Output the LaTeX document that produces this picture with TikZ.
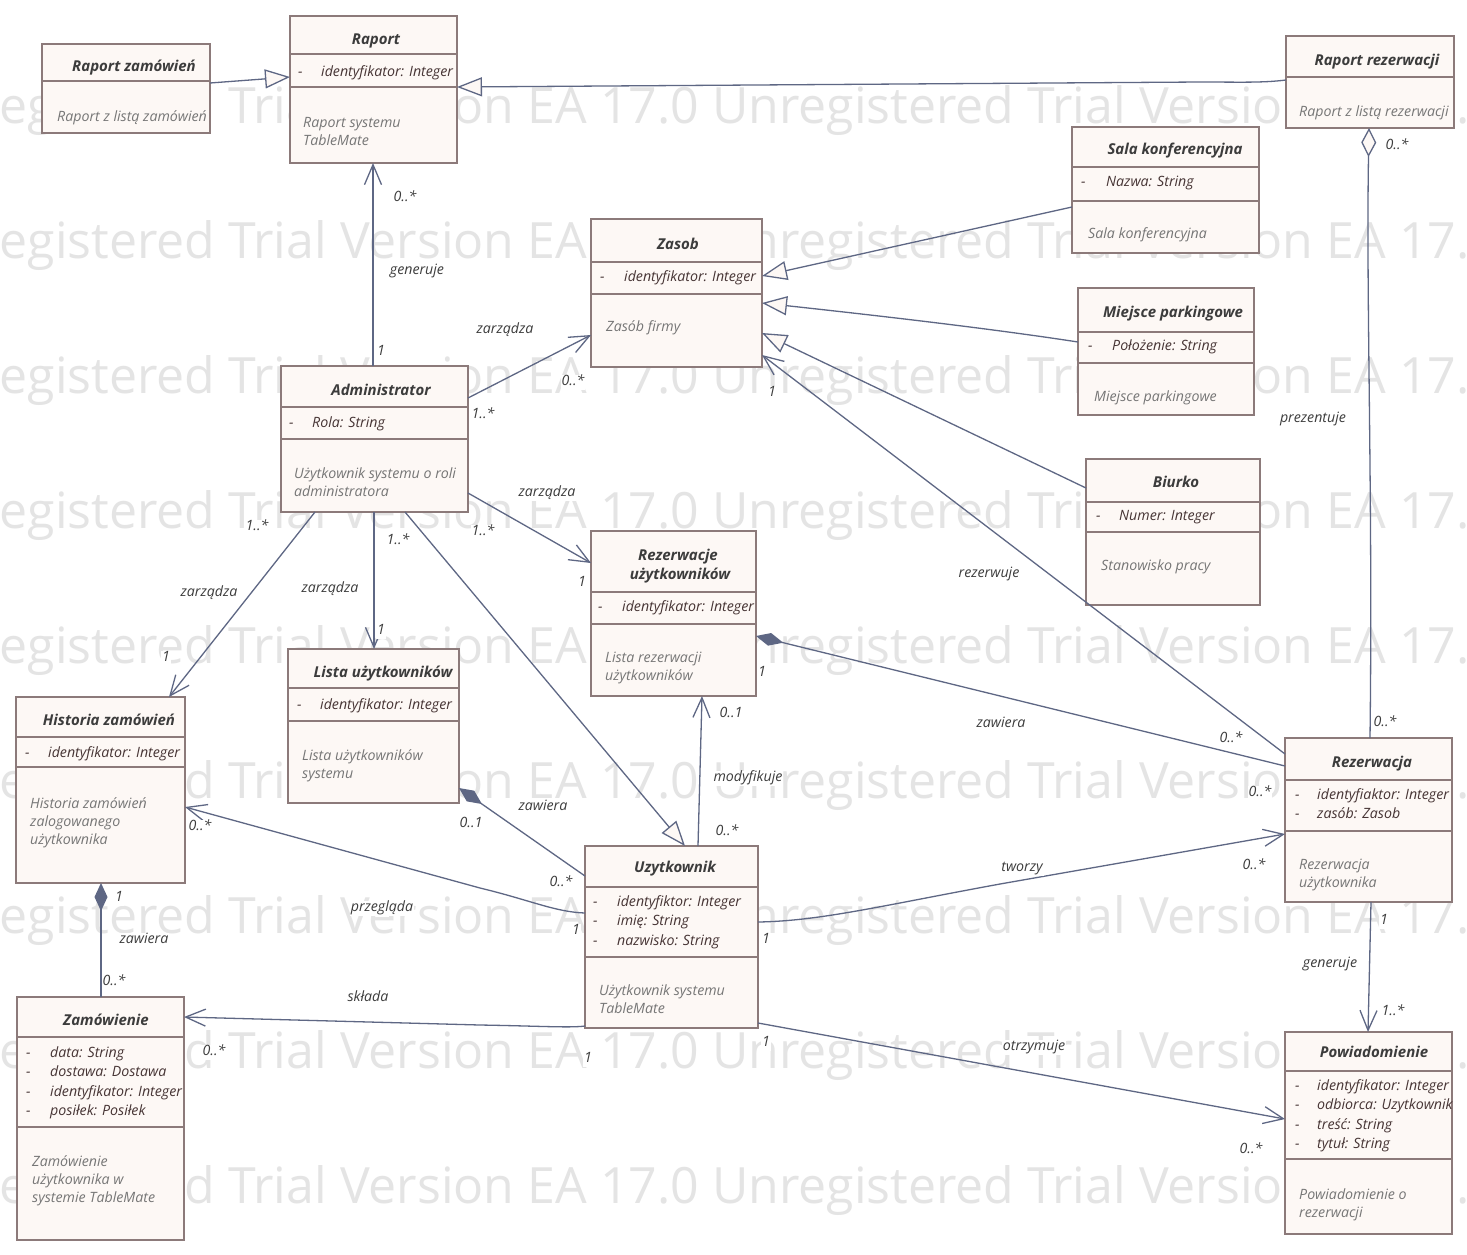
\documentclass[tikz,border=0pt]{standalone}
\usepackage{fontspec}
\setmainfont{Open Sans}
\usetikzlibrary{arrows.meta}
\definecolor{boxfill}{RGB}{253,248,245}
\definecolor{boxline}{RGB}{140,122,122}
\definecolor{linec}{RGB}{94,103,132}
\definecolor{titlec}{RGB}{60,60,60}
\definecolor{attrc}{RGB}{70,52,52}
\definecolor{notec}{RGB}{118,118,118}
\definecolor{lblc}{RGB}{60,60,60}
\definecolor{wmc}{RGB}{228,228,228}
\newcommand\bodyfont{\fontsize{14.2}{18}\selectfont\itshape}
\newcommand\titlefont{\fontsize{15}{18}\selectfont\bfseries\itshape}
\newcommand\wmfont{\fontsize{50}{50}\selectfont}
\newcommand\umlclass[5]{\node[clsbox, minimum width={(#4)-(#2)}, minimum height={(#5)-(#3)}, anchor=north west] (#1) at (#2,#3) {};}
\newcommand\umlsep[2]{\draw[sepline] (#1.west |- 0,#2) -- (#1.east |- 0,#2);}
\tikzset{
 clsbox/.style={draw=boxline, fill=boxfill, line width=1.2pt, inner sep=0, outer sep=0, rectangle},
 sepline/.style={draw=boxline, line width=1.1pt},
 ttl/.style={font=\titlefont, text=titlec, inner sep=0, text height=11pt, text depth=3pt},
 attr/.style={font=\bodyfont, text=attrc, anchor=west, inner sep=0, text height=10pt, text depth=3pt},
 note/.style={font=\bodyfont, text=notec, anchor=west, inner sep=0, text height=10pt, text depth=3pt},
 lbl/.style={font=\bodyfont, text=lblc, fill=white, inner sep=1pt, text height=10pt, text depth=3pt},
 conn/.style={draw=linec, line width=1.3pt},
 assoc/.style={conn, -{Straight Barb[length=20pt,width=17pt]}},
 gen/.style={conn, -{Triangle[length=25pt,width=19pt,fill=boxfill]}},
 comp/.style={conn, {Diamond[length=28pt,width=13pt,fill=linec]}-},
 aggr/.style={conn, {Diamond[length=29pt,width=15pt,fill=boxfill]}-},
 wm/.style={font=\wmfont, text=wmc, anchor=base west, inner sep=0},
}
\begin{document}
\begin{tikzpicture}[x=1pt,y=-1pt]
\useasboundingbox (0,0) rectangle (1467,1254);
\fill[white] (0,0) rectangle (1467,1254);
% watermark
\begin{scope}
\clip (0,0) rectangle (1467,1254);
\foreach \k in {0,...,8}{
  \node[wm] (wm\k) at (-87,{123+135*\k}) {Unregistered Trial Version EA 17.0 Unregistered Trial Version EA 17.0};
}
\end{scope}

% ---------- classes ----------
\umlclass{rzam}{42}{44}{210}{133}
\umlsep{rzam}{81}
\node[ttl] (rzam-t) at (134,67) {Raport zamówień};
\node[note] (rzam-n1) at (57,118) {Raport z listą zamówień};

\umlclass{rap}{290}{16}{457}{163}
\umlsep{rap}{54}\umlsep{rap}{87}
\node[ttl] (rap-t) at (376,40) {Raport};
\node[attr] (rap-d1) at (298,73) {-};
\node[attr] (rap-a1) at (321,73) {identyfikator: Integer};
\node[note] (rap-n1) at (303,124) {Raport systemu};
\node[note] (rap-n2) at (303,142) {TableMate};

\umlclass{rrez}{1286}{36}{1454}{128}
\umlsep{rrez}{77}
\node[ttl] (rrez-t) at (1377,61) {Raport rezerwacji};
\node[note] (rrez-n1) at (1299,113) {Raport z listą rezerwacji};

\umlclass{sala}{1072}{127}{1259}{253}
\umlsep{sala}{167}\umlsep{sala}{201}
\node[ttl] (sala-t) at (1175,150) {Sala konferencyjna};
\node[attr] (sala-d1) at (1081,183) {-};
\node[attr] (sala-a1) at (1106,183) {Nazwa: String};
\node[note] (sala-n1) at (1088,235) {Sala konferencyjna};

\umlclass{zas}{591}{219}{762}{367}
\umlsep{zas}{262}\umlsep{zas}{294}
\node[ttl] (zas-t) at (678,245) {Zasob};
\node[attr] (zas-d1) at (600,278) {-};
\node[attr] (zas-a1) at (624,278) {identyfikator: Integer};
\node[note] (zas-n1) at (606,328) {Zasób firmy};

\umlclass{miej}{1078}{288}{1254}{415}
\umlsep{miej}{332}\umlsep{miej}{363}
\node[ttl] (miej-t) at (1173,313) {Miejsce parkingowe};
\node[attr] (miej-d1) at (1088,347) {-};
\node[attr] (miej-a1) at (1112,347) {Położenie: String};
\node[note] (miej-n1) at (1094,398) {Miejsce parkingowe};

\umlclass{adm}{281}{366}{468}{512}
\umlsep{adm}{407}\umlsep{adm}{439}
\node[ttl] (adm-t) at (381,391) {Administrator};
\node[attr] (adm-d1) at (289,424) {-};
\node[attr] (adm-a1) at (312,424) {Rola: String};
\node[note] (adm-n1) at (294,475) {Użytkownik systemu o roli};
\node[note] (adm-n2) at (294,493) {administratora};

\umlclass{biu}{1086}{459}{1260}{605}
\umlsep{biu}{502}\umlsep{biu}{532}
\node[ttl] (biu-t) at (1176,483) {Biurko};
\node[attr] (biu-d1) at (1096,517) {-};
\node[attr] (biu-a1) at (1119,517) {Numer: Integer};
\node[note] (biu-n1) at (1101,567) {Stanowisko pracy};

\umlclass{rezu}{591}{531}{756}{696}
\umlsep{rezu}{592}\umlsep{rezu}{624}
\node[ttl] (rezu-t1) at (678,556) {Rezerwacje};
\node[ttl] (rezu-t2) at (680,575) {użytkowników};
\node[attr] (rezu-d1) at (598,608) {-};
\node[attr] (rezu-a1) at (622,608) {identyfikator: Integer};
\node[note] (rezu-n1) at (605,659) {Lista rezerwacji};
\node[note] (rezu-n2) at (605,677) {użytkowników};

\umlclass{lista}{288}{649}{459}{803}
\umlsep{lista}{688}\umlsep{lista}{721}
\node[ttl] (lista-t) at (383,673) {Lista użytkowników};
\node[attr] (lista-d1) at (297,706) {-};
\node[attr] (lista-a1) at (320,706) {identyfikator: Integer};
\node[note] (lista-n1) at (302,757) {Lista użytkowników};
\node[note] (lista-n2) at (302,775) {systemu};

\umlclass{hist}{16}{697}{185}{883}
\umlsep{hist}{737}\umlsep{hist}{767}
\node[ttl] (hist-t) at (109,721) {Historia zamówień};
\node[attr] (hist-d1) at (25,754) {-};
\node[attr] (hist-a1) at (48,754) {identyfikator: Integer};
\node[note] (hist-n1) at (30,805) {Historia zamówień};
\node[note] (hist-n2) at (30,823) {zalogowanego};
\node[note] (hist-n3) at (30,841) {użytkownika};

\umlclass{uzy}{585}{846}{758}{1028}
\umlsep{uzy}{887}\umlsep{uzy}{957}
\node[ttl] (uzy-t) at (675,868) {Uzytkownik};
\node[attr] (uzy-d1) at (593,903) {-};
\node[attr] (uzy-a1) at (617,903) {identyfiktor: Integer};
\node[attr] (uzy-d2) at (593,922) {-};
\node[attr] (uzy-a2) at (617,922) {imię: String};
\node[attr] (uzy-d3) at (593,942) {-};
\node[attr] (uzy-a3) at (617,942) {nazwisko: String};
\node[note] (uzy-n1) at (599,992) {Użytkownik systemu};
\node[note] (uzy-n2) at (599,1010) {TableMate};

\umlclass{rez}{1285}{738}{1452}{902}
\umlsep{rez}{780}\umlsep{rez}{831}
\node[ttl] (rez-t) at (1372,763) {Rezerwacja};
\node[attr] (rez-d1) at (1295,796) {-};
\node[attr] (rez-a1) at (1317,796) {identyfiaktor: Integer};
\node[attr] (rez-d2) at (1295,815) {-};
\node[attr] (rez-a2) at (1317,815) {zasób: Zasob};
\node[note] (rez-n1) at (1299,866) {Rezerwacja};
\node[note] (rez-n2) at (1299,884) {użytkownika};

\umlclass{zam}{17}{997}{184}{1240}
\umlsep{zam}{1037}\umlsep{zam}{1127}
\node[ttl] (zam-t) at (106,1021) {Zamówienie};
\node[attr] (zam-d1) at (26,1054) {-};
\node[attr] (zam-a1) at (50,1054) {data: String};
\node[attr] (zam-d2) at (26,1073) {-};
\node[attr] (zam-a2) at (50,1073) {dostawa: Dostawa};
\node[attr] (zam-d3) at (26,1093) {-};
\node[attr] (zam-a3) at (50,1093) {identyfikator: Integer};
\node[attr] (zam-d4) at (26,1112) {-};
\node[attr] (zam-a4) at (50,1112) {posiłek: Posiłek};
\node[note] (zam-n1) at (32,1163) {Zamówienie};
\node[note] (zam-n2) at (32,1181) {użytkownika w};
\node[note] (zam-n3) at (32,1199) {systemie TableMate};

\umlclass{pow}{1285}{1032}{1452}{1234}
\umlsep{pow}{1071}\umlsep{pow}{1159}
\node[ttl] (pow-t) at (1374,1053) {Powiadomienie};
\node[attr] (pow-d1) at (1295,1087) {-};
\node[attr] (pow-a1) at (1317,1087) {identyfikator: Integer};
\node[attr] (pow-d2) at (1295,1106) {-};
\node[attr] (pow-a2) at (1317,1106) {odbiorca: Uzytkownik};
\node[attr] (pow-d3) at (1295,1126) {-};
\node[attr] (pow-a3) at (1317,1126) {treść: String};
\node[attr] (pow-d4) at (1295,1145) {-};
\node[attr] (pow-a4) at (1317,1145) {tytuł: String};
\node[note] (pow-n1) at (1299,1196) {Powiadomienie o};
\node[note] (pow-n2) at (1299,1214) {rezerwacji};

% ---------- connectors ----------
% generalizations
\draw[gen] (rzam.east |- 0,83) -- (rap.west |- 0,77);
\draw[gen] (rrez.west |- 0,80) .. controls (1262,83) and (1240,82) .. (1200,82) -- (rap.east |- 0,87);
\draw[gen] (sala.west |- 0,207) -- (zas.east |- 0,276);
\draw[gen] (miej.west |- 0,342) .. controls (1000,330) and (900,318) .. (zas.east |- 0,303);
\draw[gen] (biu.west |- 0,488) -- (zas.east |- 0,333);
\draw[gen] (405,0 |- adm.south) -- (685,0 |- uzy.north);
% associations
\draw[assoc] (373,0 |- adm.north) -- (373,0 |- rap.south);
\draw[assoc] (adm.east |- 0,398) -- (zas.west |- 0,335);
\draw[assoc] (adm.east |- 0,493) -- (rezu.west |- 0,563);
\draw[assoc] (315,0 |- adm.south) -- (169,0 |- hist.north);
\draw[assoc] (374,0 |- adm.south) -- (374,0 |- lista.north);
\draw[assoc] (rez.west |- 0,754) -- (zas.east |- 0,355);
\draw[assoc] (uzy.east |- 0,922) .. controls (820,921) and (880,906) .. (1000,884) -- (rez.west |- 0,834);
\draw[assoc] (1371,0 |- rez.south) -- (1368,0 |- pow.north);
\draw[assoc] (uzy.east |- 0,1023) -- (pow.west |- 0,1119);
\draw[assoc] (uzy.west |- 0,1026) .. controls (570,1028) and (540,1026) .. (480,1025) -- (zam.east |- 0,1017);
\draw[assoc] (uzy.west |- 0,913) .. controls (555,912) and (530,900) .. (480,888) -- (hist.east |- 0,807);
\draw[assoc] (698,0 |- uzy.north) -- (702,0 |- rezu.south);
% compositions / aggregation
\draw[comp] (rezu.east |- 0,636) -- (rez.west |- 0,766);
\draw[comp] (lista.east |- 0,788) -- (uzy.west |- 0,876);
\draw[comp] (101,0 |- hist.south) -- (101,0 |- zam.north);
\draw[aggr] (1369,0 |- rrez.south) .. controls (1366,300) and (1373,500) .. (1370,0 |- rez.north);

% ---------- labels ----------
\node[lbl] (L1) at (405,198) {0..*};
\node[lbl] (L2) at (417,271) {generuje};
\node[lbl] (L3) at (381,352) {1};
\node[lbl] (L4) at (505,330) {zarządza};
\node[lbl] (L5) at (573,382) {0..*};
\node[lbl] (L6) at (483,415) {1..*};
\node[lbl] (L7) at (547,493) {zarządza};
\node[lbl] (L8) at (483,532) {1..*};
\node[lbl] (L9) at (582,583) {1};
\node[lbl] (L10) at (257,527) {1..*};
\node[lbl] (L11) at (209,593) {zarządza};
\node[lbl] (L12) at (166,658) {1};
\node[lbl] (L13) at (398,541) {1..*};
\node[lbl] (L14) at (330,589) {zarządza};
\node[lbl] (L15) at (381,631) {1};
\node[lbl] (L16) at (772,393) {1};
\node[lbl] (L17) at (989,574) {rezerwuje};
\node[lbl] (L18) at (1231,739) {0..*};
\node[lbl] (L19) at (1001,724) {zawiera};
\node[lbl] (L20) at (762,673) {1};
\node[lbl] (L21) at (1260,793) {0..*};
\node[lbl] (L22) at (1397,146) {0..*};
\node[lbl] (L23) at (1313,419) {prezentuje};
\node[lbl] (L24) at (1385,723) {0..*};
\node[lbl] (L25) at (766,940) {1};
\node[lbl] (L26) at (1022,868) {tworzy};
\node[lbl] (L27) at (1254,866) {0..*};
\node[lbl] (L28) at (1384,921) {1};
\node[lbl] (L29) at (1330,964) {generuje};
\node[lbl] (L30) at (1393,1012) {1..*};
\node[lbl] (L31) at (766,1043) {1};
\node[lbl] (L32) at (1034,1047) {otrzymuje};
\node[lbl] (L33) at (1251,1150) {0..*};
\node[lbl] (L34) at (368,998) {składa};
\node[lbl] (L35) at (214,1052) {0..*};
\node[lbl] (L36) at (588,1059) {1};
\node[lbl] (L37) at (200,827) {0..*};
\node[lbl] (L38) at (382,908) {przegląda};
\node[lbl] (L39) at (576,931) {1};
\node[lbl] (L40) at (543,807) {zawiera};
\node[lbl] (L41) at (471,824) {0..1};
\node[lbl] (L42) at (561,883) {0..*};
\node[lbl] (L43) at (119,898) {1};
\node[lbl] (L44) at (144,940) {zawiera};
\node[lbl] (L45) at (114,982) {0..*};
\node[lbl] (L46) at (731,714) {0..1};
\node[lbl] (L47) at (748,778) {modyfikuje};
\node[lbl] (L48) at (727,832) {0..*};
\end{tikzpicture}
\end{document}
